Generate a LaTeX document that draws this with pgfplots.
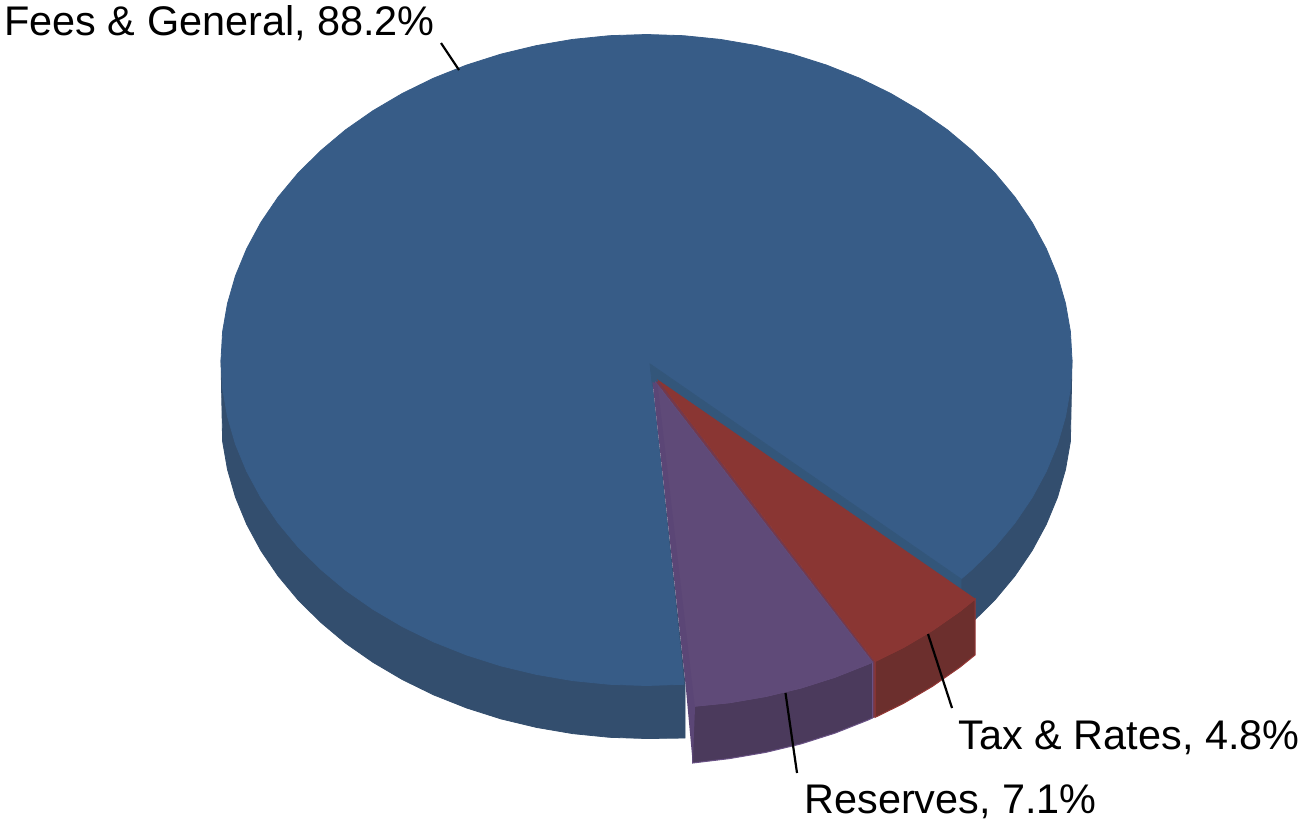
\documentclass[border=0pt]{standalone}
\usepackage{fontspec}
\setmainfont{Liberation Sans}
\usepackage{pgfplots}
\pgfplotsset{compat=1.18}
\definecolor{bluetop}{HTML}{375C87}
\definecolor{blueside}{HTML}{334E6E}
\definecolor{bluewall}{HTML}{33567A}
\definecolor{redtop}{HTML}{8A3633}
\definecolor{redside}{HTML}{6C2F2D}
\definecolor{rededge}{HTML}{953735}
\definecolor{purptop}{HTML}{5F4A78}
\definecolor{purpside}{HTML}{4B3A5C}
\definecolor{purpedge}{HTML}{6A5285}
\definecolor{purpstrip}{HTML}{5B4676}
\definecolor{filler}{HTML}{74394C}
\begin{document}
\begin{tikzpicture}
\begin{axis}[
  hide axis, scale only axis, width=649.5pt, height=409.5pt,
  xmin=0, xmax=1299, ymin=0, ymax=819, y dir=reverse, clip=false]
\path (axis cs:0,0) rectangle (axis cs:1299,819);
% blue side, left
\addplot[fill=blueside, draw=blueside, line width=0.4pt, mark=none] coordinates {
 (221,360)(222.6,441.4)(227.5,469.5)(235.5,497.2)(246.7,524.3)(260.9,550.6)(278,575.8)(297.9,599.7)
 (320.6,622.2)(345.6,643.2)(373,662.3)(402.4,679.6)(433.7,694.9)(466.7,708)(501,718.9)(536.4,727.4)
 (572.6,733.6)(609.4,737.3)(646.5,738.5)(685,738)(685,684)(650,364)} --cycle;
% blue side, right
\addplot[fill=blueside, draw=blueside, line width=0.4pt, mark=none] coordinates {
 (1072,360)(1070.4,441.4)(1065.5,469.5)(1057.5,497.2)(1046.3,524.3)(1032.1,550.6)(1015,575.8)(995.1,599.7)
 (972.4,622.2)(961,632)(961,579)(900,400)} --cycle;
% blue top, 88.2%
\addplot[fill=bluetop, draw=bluetop, line width=0.4pt, mark=none] coordinates {
 (650,364)(961,579)(972.4,569.2)(995.1,546.7)(1015,522.8)(1032.1,497.6)(1046.3,471.3)(1057.5,444.2)(1065.5,416.5)(1070.4,388.4)
 (1072,360)(1070.4,331.6)(1065.5,303.5)(1057.5,275.8)(1046.3,248.7)(1032.1,222.4)(1015,197.2)(995.1,173.3)
 (972.4,150.8)(947.4,129.8)(920,110.7)(890.6,93.4)(859.3,78.1)(826.3,65)(792,54.1)(756.6,45.6)(720.4,39.4)(683.6,35.7)
 (646.5,34.5)(609.4,35.7)(572.6,39.4)(536.4,45.6)(501,54.1)(466.7,65)(433.7,78.1)(402.4,93.4)(373,110.7)(345.6,129.8)
 (320.6,150.8)(297.9,173.3)(278,197.2)(260.9,222.4)(246.7,248.7)(235.5,275.8)(227.5,303.5)(222.6,331.6)
 (221,360)(222.6,388.4)(227.5,416.5)(235.5,444.2)(246.7,471.3)(260.9,497.6)(278,522.8)(297.9,546.7)
 (320.6,569.2)(345.6,590.2)(373,609.3)(402.4,626.6)(433.7,641.9)(466.7,655)(501,665.9)(536.4,674.4)
 (572.6,680.6)(609.4,684.3)(646.5,685.5)(684,684.3)} --cycle;
% blue wall in the notch
\addplot[fill=bluewall, draw=bluewall, line width=0.4pt, mark=none] coordinates {
 (650,364)(961,579)(961,632)(662,388)(652.5,386)} --cycle;
% seam between the purple and the red slice
\addplot[fill=filler, draw=none, mark=none] coordinates {
 (655.5,382)(659,381)(875,661.4)(875,717.4)(872.5,718)(872.5,662.1)} --cycle;
% purple side
\addplot[fill=purpside, draw=purpedge, line width=0.5pt, mark=none] coordinates {
 (692.6,706.3)(692.7,763)(729.4,758.6)(765.6,752.4)(801,743.9)(835.3,733)(868.3,719.9)(872.5,718)
 (872.5,662.1)(868.3,663.9)(835.3,677)(801,687.9)(765.6,696.4)(729.4,702.6)} --cycle;
% purple top, 7.1%
\addplot[fill=purptop, draw=purptop, line width=0.4pt, mark=none] coordinates {
 (655.5,382)(692.6,706.3)(729.4,702.6)(765.6,696.4)(801,687.9)(835.3,677)(868.3,663.9)(872.5,662.1)} --cycle;
% purple inner edge
\addplot[fill=purpstrip, draw=none, mark=none] coordinates {
 (652.5,382)(685.5,684)(692.7,763)(695,708)(657.5,384)} --cycle;
% red side
\addplot[fill=redside, draw=rededge, line width=0.5pt, mark=none] coordinates {
 (875,661.4)(875,717.4)(903.1,703.6)(932.5,686.3)(959.9,667.2)(975,655)(975,599)
 (959.9,611.2)(932.5,630.3)(903.1,647.6)} --cycle;
% red top, 4.8%
\addplot[fill=redtop, draw=redtop, line width=0.4pt, mark=none] coordinates {
 (659,381)(875,661.4)(903.1,647.6)(932.5,630.3)(959.9,611.2)(975,599)} --cycle;
% leader lines
\addplot[black, line width=1.1pt, mark=none] coordinates {(441,43)(459,70)};
\addplot[black, line width=1.1pt, mark=none] coordinates {(928,634)(952,708)};
\addplot[black, line width=1.1pt, mark=none] coordinates {(785.5,693)(797,773)};
% labels
\node[anchor=base west, inner sep=0pt, font=\fontsize{20.7pt}{24pt}\selectfont] at (axis cs:4,35) {Fees \& General, 88.2\%};
\node[overlay, anchor=base west, inner sep=0pt, font=\fontsize{20.7pt}{24pt}\selectfont] at (axis cs:958.5,749) {Tax \& Rates, 4.8\%};
\node[overlay, anchor=base west, inner sep=0pt, font=\fontsize{20.7pt}{24pt}\selectfont] at (axis cs:804,813) {Reserves, 7.1\%};
\end{axis}
\end{tikzpicture}
\end{document}
